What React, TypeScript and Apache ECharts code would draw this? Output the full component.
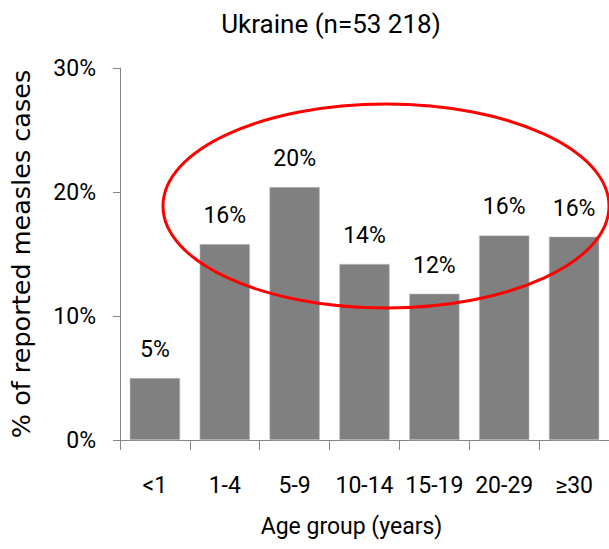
import React, { useEffect, useRef } from "react";
import * as echarts from "echarts";

const categories = ["<1", "1-4", "5-9", "10-14", "15-19", "20-29", "≥30"];
const percentValues = [5.0, 15.8, 20.4, 14.2, 11.8, 16.5, 16.4];
const percentLabels = ["5%", "16%", "20%", "14%", "12%", "16%", "16%"];
const yTicks = [0, 10, 20, 30];

const NARROW = "Roboto, 'Liberation Sans', sans-serif";

export default function App() {
  const ref = useRef<HTMLDivElement>(null);
  useEffect(() => {
    if (!ref.current) return;
    const chart = echarts.init(ref.current, undefined, { renderer: "svg" });
    chart.setOption({
      animation: false,
      backgroundColor: "#ffffff",
      title: {
        text: "Ukraine (n=53 218)",
        left: 326,
        textAlign: "center",
        top: 6,
        textStyle: { fontFamily: NARROW, fontSize: 26, fontWeight: "normal", color: "#000" },
      },
      grid: { left: 113, right: 0, top: 68, bottom: 109, containLabel: false },
      xAxis: {
        type: "category",
        data: categories,
        name: "Age group (years)",
        nameLocation: "middle",
        nameGap: 75,
        nameTextStyle: { fontFamily: NARROW, fontSize: 23, color: "#000", padding: [0, 26, 0, 0] },
        axisLine: { lineStyle: { color: "#868686", width: 1 } },
        axisTick: { show: true, length: 10, lineStyle: { color: "#868686" } },
        axisLabel: { interval: 0, fontFamily: NARROW, fontSize: 23, color: "#000", margin: 34 },
      },
      yAxis: {
        type: "value",
        min: yTicks[0],
        max: yTicks[yTicks.length - 1],
        interval: 10,
        name: "% of reported measles cases",
        nameLocation: "middle",
        nameGap: 86,
        nameRotate: 90,
        nameTextStyle: { fontFamily: "'DejaVu Sans', sans-serif", fontSize: 25.5, color: "#000" },
        axisLine: { show: true, lineStyle: { color: "#868686", width: 1 } },
        axisTick: { show: true, length: 7, lineStyle: { color: "#868686" } },
        splitLine: { show: false },
        axisLabel: {
          fontFamily: NARROW,
          fontSize: 23,
          color: "#000",
          margin: 24,
          formatter: "{value}%",
        },
      },
      series: [
        {
          type: "bar",
          data: percentValues,
          barCategoryGap: "28%",
          itemStyle: { color: "#808080", borderColor: "#c8c8c8", borderWidth: 0.5 },
          label: {
            show: true,
            position: "top",
            distance: 17,
            fontFamily: NARROW,
            fontSize: 23,
            color: "#000",
            formatter: (p: any) => percentLabels[p.dataIndex],
          },
        },
      ],
      graphic: [
        {
          type: "ellipse",
          shape: { cx: 386, cy: 206, rx: 223, ry: 102 },
          style: { fill: "none", stroke: "#ff0000", lineWidth: 3 },
          z: 100,
        },
      ],
    });
    return () => chart.dispose();
  }, []);
  return (
    <div
      ref={ref}
      style={{ position: "fixed", left: 0, top: 0, width: 609, height: 549 }}
    />
  );
}
